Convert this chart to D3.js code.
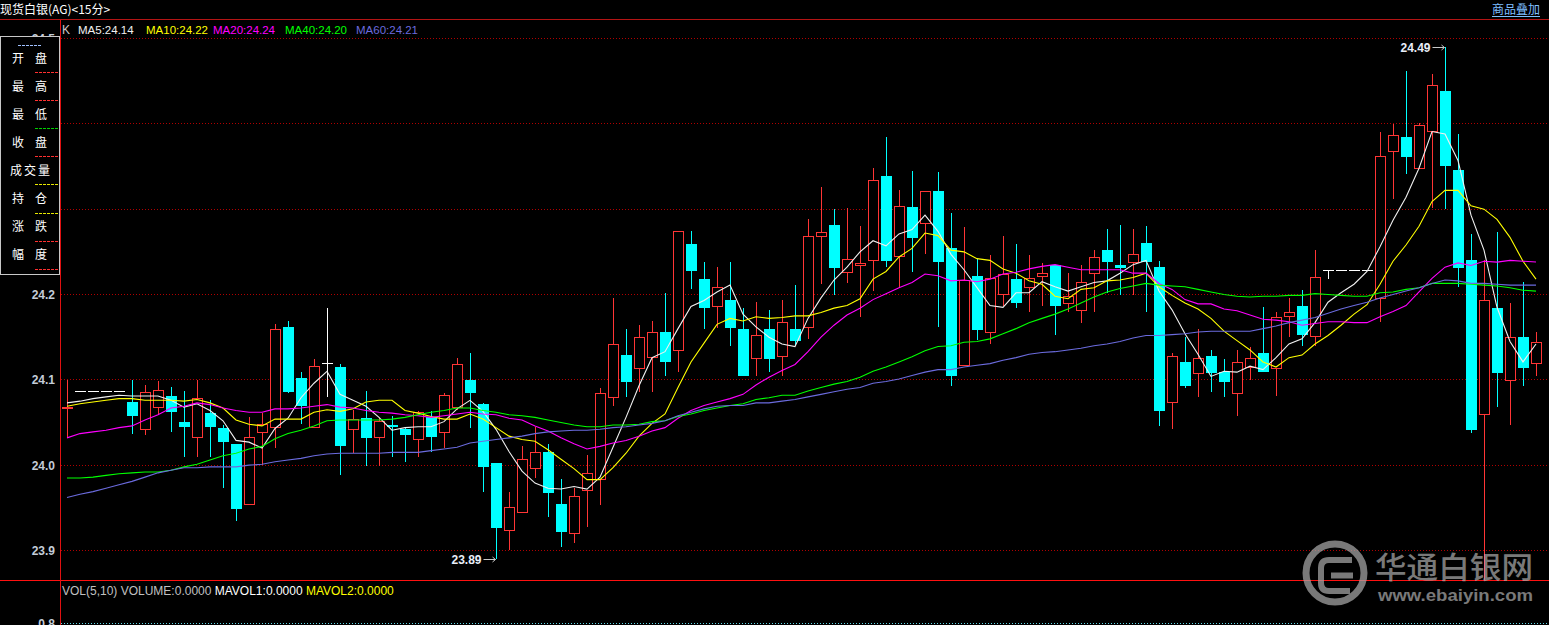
<!DOCTYPE html>
<html><head><meta charset="utf-8">
<script src="https://cdn.jsdelivr.net/npm/d3@7"></script>
<style>html,body{margin:0;padding:0;background:#000;overflow:hidden}</style>
</head><body>
<svg id="c" width="1549" height="625" style="display:block;background:#000"></svg>
<script>
// ---------- data (15-minute candles) ----------
const openP = [24.067,24.087,24.087,24.087,24.087,24.074,24.042,24.068,24.081,24.051,
24.033,24.061,24.044,24.025,23.955,24.039,24.045,24.162,24.102,24.045,
24.120,24.115,24.042,24.055,24.033,24.047,24.042,24.031,24.056,24.039,
24.068,24.100,24.072,24.002,23.924,23.945,23.997,24.015,23.954,23.921,
23.971,23.984,24.080,24.129,24.114,24.127,24.156,24.135,24.259,24.218,
24.186,24.193,24.159,24.125,24.159,24.128,24.159,24.162,24.268,24.282,
24.226,24.234,24.240,24.339,24.245,24.302,24.284,24.321,24.255,24.117,
24.222,24.156,24.201,24.218,24.209,24.222,24.234,24.190,24.182,24.225,
24.252,24.235,24.238,24.260,24.232,24.074,24.121,24.108,24.128,24.109,
24.085,24.115,24.131,24.114,24.175,24.186,24.151,24.229,24.229,24.229,
24.229,24.196,24.368,24.384,24.348,24.392,24.439,24.346,24.240,24.060,
24.184,24.100,24.150,24.120];
const highP = [24.100,24.087,24.087,24.087,24.087,24.100,24.094,24.099,24.092,24.087,
24.100,24.076,24.047,24.025,24.056,24.061,24.166,24.169,24.109,24.124,
24.184,24.119,24.065,24.087,24.055,24.058,24.045,24.064,24.064,24.085,
24.126,24.132,24.073,24.002,23.969,24.022,24.045,24.025,23.984,23.973,
24.012,24.090,24.196,24.159,24.164,24.169,24.202,24.275,24.274,24.238,
24.232,24.238,24.184,24.191,24.182,24.193,24.211,24.289,24.326,24.300,
24.301,24.280,24.348,24.384,24.322,24.345,24.321,24.344,24.295,24.279,
24.242,24.246,24.268,24.259,24.246,24.237,24.234,24.225,24.234,24.252,
24.277,24.282,24.277,24.280,24.239,24.132,24.150,24.160,24.135,24.124,
24.135,24.138,24.185,24.179,24.196,24.205,24.252,24.229,24.229,24.229,
24.229,24.391,24.400,24.462,24.401,24.458,24.490,24.388,24.271,24.241,
24.273,24.190,24.215,24.156];
const lowP = [24.032,24.087,24.087,24.087,24.087,24.036,24.035,24.059,24.039,24.009,
24.009,24.009,23.973,23.934,23.955,24.000,24.020,24.085,24.048,24.045,
24.080,23.989,24.014,23.999,23.999,24.009,24.004,24.009,24.015,24.020,
24.065,24.044,23.968,23.890,23.901,23.945,23.985,23.939,23.904,23.909,
23.928,23.953,24.069,24.080,24.086,24.086,24.105,24.109,24.206,24.159,
24.161,24.140,24.104,24.104,24.109,24.104,24.141,24.148,24.212,24.200,
24.213,24.174,24.204,24.232,24.208,24.226,24.248,24.162,24.093,24.117,
24.147,24.142,24.186,24.184,24.180,24.187,24.152,24.180,24.167,24.180,
24.202,24.200,24.200,24.180,24.046,24.042,24.090,24.080,24.086,24.080,
24.058,24.100,24.109,24.081,24.150,24.140,24.140,24.218,24.229,24.229,
24.229,24.168,24.312,24.341,24.347,24.301,24.300,24.209,24.038,23.850,
24.068,24.047,24.093,24.104];
const closeP = [24.068,24.087,24.087,24.087,24.087,24.058,24.086,24.088,24.062,24.045,
24.079,24.045,24.027,23.949,24.033,24.048,24.160,24.086,24.069,24.116,
24.120,24.022,24.054,24.032,24.052,24.045,24.035,24.062,24.033,24.082,
24.119,24.085,23.998,23.926,23.951,24.007,24.015,23.967,23.922,23.964,
23.991,24.084,24.142,24.098,24.150,24.156,24.121,24.275,24.228,24.184,
24.209,24.161,24.104,24.152,24.124,24.168,24.146,24.268,24.273,24.231,
24.242,24.237,24.334,24.239,24.304,24.266,24.321,24.238,24.105,24.217,
24.158,24.219,24.224,24.190,24.219,24.225,24.187,24.198,24.215,24.244,
24.238,24.231,24.248,24.238,24.064,24.128,24.093,24.125,24.108,24.098,
24.121,24.126,24.109,24.174,24.180,24.152,24.220,24.229,24.229,24.229,
24.229,24.362,24.387,24.361,24.399,24.445,24.350,24.231,24.041,24.194,
24.108,24.150,24.114,24.144];

const ma5 = [24.073,24.075,24.078,24.080,24.082,24.081,24.081,24.081,24.076,24.068,
24.072,24.064,24.052,24.029,24.027,24.020,24.043,24.055,24.079,24.096,
24.110,24.083,24.076,24.069,24.056,24.041,24.044,24.045,24.045,24.051,
24.066,24.076,24.063,24.042,24.016,23.993,23.979,23.973,23.972,23.975,
23.972,23.986,24.021,24.056,24.093,24.126,24.133,24.160,24.186,24.193,
24.203,24.211,24.177,24.162,24.150,24.142,24.139,24.172,24.196,24.217,
24.232,24.250,24.263,24.257,24.271,24.276,24.293,24.274,24.247,24.229,
24.208,24.187,24.185,24.202,24.202,24.215,24.209,24.204,24.209,24.214,
24.216,24.225,24.235,24.240,24.204,24.182,24.154,24.130,24.104,24.110,
24.109,24.116,24.112,24.126,24.142,24.148,24.167,24.191,24.202,24.212,
24.227,24.256,24.287,24.314,24.348,24.391,24.388,24.357,24.293,24.252,
24.185,24.145,24.121,24.142];
const ma10 = [24.069,24.072,24.074,24.076,24.078,24.078,24.076,24.076,24.076,
24.075,24.077,24.073,24.067,24.053,24.048,24.046,24.054,24.054,24.054,
24.062,24.065,24.063,24.066,24.074,24.076,24.076,24.064,24.061,24.057,
24.054,24.054,24.060,24.054,24.044,24.034,24.030,24.028,24.018,24.007,
23.996,23.983,23.983,23.997,24.014,24.034,24.049,24.060,24.091,24.121,
24.143,24.165,24.172,24.169,24.174,24.172,24.173,24.175,24.175,24.179,
24.184,24.187,24.195,24.218,24.227,24.244,24.254,24.272,24.269,24.252,
24.250,24.242,24.240,24.230,24.225,24.216,24.212,24.198,24.195,24.206,
24.208,24.216,24.217,24.220,24.225,24.209,24.199,24.190,24.183,24.172,
24.157,24.146,24.135,24.121,24.115,24.126,24.129,24.142,24.152,24.164,
24.177,24.188,24.212,24.239,24.258,24.280,24.309,24.322,24.322,24.304,
24.300,24.288,24.267,24.239,24.218];
const ma20 = [24.032,24.037,24.039,24.041,24.044,24.046,24.053,24.059,24.067,24.069,
24.073,24.071,24.067,24.064,24.062,24.062,24.066,24.066,24.067,
24.069,24.071,24.068,24.067,24.064,24.062,24.061,24.059,24.058,24.056,
24.058,24.060,24.062,24.060,24.059,24.055,24.053,24.046,24.040,24.032,
24.025,24.019,24.022,24.026,24.029,24.034,24.040,24.044,24.055,24.064,
24.070,24.074,24.078,24.083,24.094,24.103,24.111,24.118,24.133,24.150,
24.164,24.176,24.184,24.194,24.201,24.208,24.214,24.224,24.222,24.216,
24.217,24.215,24.218,24.224,24.226,24.230,24.233,24.235,24.232,24.229,
24.229,24.229,24.229,24.225,24.225,24.213,24.206,24.194,24.189,24.189,
24.183,24.181,24.176,24.171,24.170,24.168,24.164,24.166,24.168,24.168,
24.167,24.167,24.174,24.180,24.187,24.203,24.219,24.232,24.237,24.234,
24.239,24.238,24.240,24.239,24.238];
const ma40 = [23.985,23.985,23.986,23.988,23.990,23.991,23.992,23.992,23.994,23.998,
24.001,24.006,24.011,24.014,24.019,24.022,24.031,24.037,24.041,24.046,
24.052,24.053,24.053,24.053,24.053,24.054,24.056,24.059,24.062,24.064,
24.067,24.067,24.064,24.062,24.059,24.058,24.056,24.053,24.050,24.047,
24.045,24.045,24.047,24.047,24.048,24.051,24.052,24.057,24.060,24.064,
24.067,24.070,24.072,24.077,24.079,24.082,24.082,24.087,24.091,24.095,
24.098,24.103,24.110,24.115,24.121,24.127,24.134,24.139,24.140,24.144,
24.145,24.148,24.154,24.160,24.167,24.172,24.177,24.183,24.190,24.197,
24.203,24.207,24.210,24.213,24.211,24.210,24.209,24.206,24.203,24.200,
24.198,24.197,24.198,24.198,24.199,24.199,24.201,24.200,24.199,24.198,
24.198,24.202,24.203,24.206,24.208,24.213,24.213,24.213,24.212,24.211,
24.210,24.208,24.205,24.204];
const ma60 = [23.962,23.966,23.969,23.973,23.977,23.981,23.986,23.991,23.994,23.997,
23.997,23.998,23.998,23.998,24.000,24.001,24.004,24.006,24.008,24.011,
24.013,24.014,24.014,24.014,24.014,24.015,24.015,24.015,24.017,24.019,
24.021,24.026,24.028,24.030,24.032,24.034,24.037,24.039,24.040,24.041,
24.041,24.042,24.044,24.045,24.047,24.049,24.052,24.058,24.062,24.066,
24.069,24.070,24.070,24.073,24.073,24.075,24.077,24.080,24.083,24.086,
24.089,24.091,24.096,24.098,24.101,24.105,24.109,24.112,24.112,24.115,
24.117,24.119,24.123,24.126,24.130,24.132,24.133,24.135,24.137,24.140,
24.142,24.145,24.149,24.152,24.152,24.153,24.154,24.156,24.157,24.157,
24.157,24.157,24.160,24.163,24.167,24.170,24.173,24.178,24.183,24.187,
24.191,24.196,24.200,24.204,24.208,24.213,24.217,24.216,24.213,24.213,
24.212,24.211,24.211,24.211];

const priceTicks = [23.9, 24.0, 24.1, 24.2, 24.3, 24.4, 24.5];
const priceLabels = [23.9, 24.0, 24.1, 24.2, 24.5];   // 24.3 / 24.4 sit under the info panel
const volTicks = [0.8];
const maNames = ["MA5", "MA10", "MA20", "MA40", "MA60"];
const maLast = ["24.14", "24.22", "24.24", "24.20", "24.21"];
const extremeIdx = [106, 33];           // candles carrying the max / min marks
const extremeVal = [24.49, 23.89];
const panelLabels = [["开","盘"],["最","高"],["最","低"],["收","盘"],["成交量"],["持","仓"],["涨","跌"],["幅","度"]];
const panelDash = ["#ff3030","#ff3030","#00d000","#ff3030","#e8e800","#e8e800","#ff3030","#ff3030"];

// ---------- drawing ----------
const W = 1549, H = 625;
const svg = d3.select("#c");
const N = closeP.length;
const candles = d3.range(N).map(i => ({i, o: openP[i], h: highP[i], l: lowP[i], c: closeP[i]}));

const x = d3.scaleLinear().domain([0, N - 1]).range([67, 1536]);
const y = d3.scaleLinear().domain([23.9, 24.5]).range([550.5, 38.5]);
const yv = d3.scaleLinear().domain([0, 0.8]).range([700, 623.5]);

const px = v => Math.round(v);
const latin = '"Liberation Sans", Arial, sans-serif';
const cjk = '"Noto Sans CJK SC", "Noto Sans", sans-serif';

svg.append("defs").append("clipPath").attr("id", "pane")
  .append("rect").attr("x", 61).attr("y", 37).attr("width", W - 61).attr("height", 580 - 37);

// gridlines
svg.append("g").selectAll("line").data(priceTicks).join("line")
  .attr("x1", 61).attr("x2", W)
  .attr("y1", d => Math.floor(y(d)) + 0.5).attr("y2", d => Math.floor(y(d)) + 0.5)
  .attr("stroke", "#b00000").attr("stroke-dasharray", "1,2");
svg.append("g").selectAll("line").data(volTicks).join("line")
  .attr("x1", 61).attr("x2", W)
  .attr("y1", d => Math.floor(yv(d)) + 0.5).attr("y2", d => Math.floor(yv(d)) + 0.5)
  .attr("stroke", "#5fd8e8").attr("stroke-dasharray", "1,2");

// axis labels
const ax = svg.append("g").attr("transform", "translate(55,0)")
  .call(d3.axisLeft(y).tickValues(priceLabels).tickFormat(d3.format(".1f")).tickSize(0).tickPadding(0));
ax.select(".domain").remove();
ax.selectAll("text").attr("fill", "#c3ccd8").style("font", "bold 12px " + latin);
const axv = svg.append("g").attr("transform", "translate(55,0)")
  .call(d3.axisLeft(yv).tickValues(volTicks).tickFormat(d3.format(".1f")).tickSize(0).tickPadding(0));
axv.select(".domain").remove();
axv.selectAll("text").attr("fill", "#c3ccd8").style("font", "bold 12px " + latin);

// frame lines
svg.append("line").attr("x1", 0).attr("x2", W).attr("y1", 19.5).attr("y2", 19.5).attr("stroke", "#b41414");
svg.append("line").attr("x1", 0).attr("x2", W).attr("y1", 580.5).attr("y2", 580.5).attr("stroke", "#ff1010");
svg.append("line").attr("x1", 60.5).attr("x2", 60.5).attr("y1", 20).attr("y2", H).attr("stroke", "#e01010");

// candles
const UP = "#ff3535", DN = "#00ffff", EQ = "#ffffff";
const col = d => d.c > d.o ? UP : (d.c < d.o ? DN : EQ);
const gc = svg.append("g").attr("clip-path", "url(#pane)");
const g = gc.selectAll("g.k").data(candles).join("g").attr("class", "k");
g.each(function(d) {
  const s = d3.select(this);
  const cx = px(x(d.i)) + 0.5;
  const yh = px(y(d.h)), yl = px(y(d.l)), yo = px(y(d.o)), yc = px(y(d.c));
  const color = col(d);
  if (d.c > d.o) {
    if (yh < yc) s.append("line").attr("x1", cx).attr("x2", cx).attr("y1", yh).attr("y2", yc).attr("stroke", color);
    if (yl > yo) s.append("line").attr("x1", cx).attr("x2", cx).attr("y1", yo).attr("y2", yl).attr("stroke", color);
    s.append("rect").attr("x", cx - 5).attr("y", yc + 0.5).attr("width", 10).attr("height", Math.max(1, yo - yc))
      .attr("fill", "#000").attr("stroke", color);
  } else if (d.c < d.o) {
    s.append("line").attr("x1", cx).attr("x2", cx).attr("y1", yh).attr("y2", yl).attr("stroke", color);
    s.append("rect").attr("x", cx - 5.5).attr("y", yo).attr("width", 11).attr("height", Math.max(1, yc - yo))
      .attr("fill", color);
  } else {
    if (yl > yh) s.append("line").attr("x1", cx).attr("x2", cx).attr("y1", yh).attr("y2", yl).attr("stroke", color);
    s.append("line").attr("x1", cx - 5.5).attr("x2", cx + 5.5).attr("y1", yo + 0.5).attr("y2", yo + 0.5).attr("stroke", color);
  }
});

// moving averages
const maSeries = [ma5, ma10, ma20, ma40, ma60];
const maColors = ["#f0f0f0", "#ffff00", "#ff00ff", "#00ff00", "#6b6bde"];
const line = d3.line().x((d, i) => x(i)).y(d => y(d));
gc.selectAll("path.ma").data(maSeries).join("path").attr("class", "ma")
  .attr("d", line).attr("fill", "none").attr("stroke", (d, i) => maColors[i]).attr("stroke-width", 1.1);

// extreme marks
extremeIdx.forEach((idx, k) => {
  const xx = px(x(idx)) + 0.5, yy = px(y(extremeVal[k])) + 0.5;
  svg.append("text").attr("x", xx - 15).attr("y", yy).attr("dy", "0.35em").attr("text-anchor", "end")
    .attr("fill", "#e8eef8").style("font", "bold 12px " + latin).text(d3.format(".2f")(extremeVal[k]));
  svg.append("line").attr("x1", xx - 13).attr("x2", xx - 1).attr("y1", yy).attr("y2", yy).attr("stroke", "#c8c8c8");
  svg.append("path").attr("d", `M${xx - 4},${yy - 2.5}L${xx - 1},${yy}L${xx - 4},${yy + 2.5}`).attr("fill", "none").attr("stroke", "#c8c8c8");
});

// title & header
svg.append("text").attr("x", 0).attr("y", 14).attr("fill", "#ffffff").style("font", "12px " + cjk).text("现货白银(AG)<15分>");
svg.append("text").attr("x", 1492).attr("y", 14).attr("fill", "#7fbfff").style("font", "12px " + cjk).text("商品叠加");
svg.append("line").attr("x1", 1492).attr("x2", 1540).attr("y1", 16.5).attr("y2", 16.5).attr("stroke", "#7fbfff");

const legendX = [78, 146, 213, 285, 356];
svg.append("text").attr("x", 62).attr("y", 34).attr("fill", "#c8c8c8").style("font", "12px " + latin).text("K");
maNames.forEach((n, i) => svg.append("text").attr("x", legendX[i]).attr("y", 34).attr("fill", maColors[i])
  .style("font", "11.5px " + latin).text(n + ":" + maLast[i]));

const vt = svg.append("text").attr("x", 62).attr("y", 595).style("font", "12px " + latin);
vt.append("tspan").attr("fill", "#c0c0c0").text("VOL(5,10) VOLUME:0.0000 ");
vt.append("tspan").attr("fill", "#ffffff").text("MAVOL1:0.0000 ");
vt.append("tspan").attr("fill", "#ffff00").text("MAVOL2:0.0000");

// left info panel
const pg = svg.append("g");
pg.append("rect").attr("x", 0.5).attr("y", 36.5).attr("width", 59).attr("height", 238).attr("fill", "#000").attr("stroke", "#c8c8c8");
pg.append("line").attr("x1", 18).attr("x2", 42).attr("y1", 45.5).attr("y2", 45.5).attr("stroke", "#9fc0ff").attr("stroke-dasharray", "3,1");
panelLabels.forEach((lab, k) => {
  const cy = 58 + k * 28.1;
  if (lab.length === 2) {
    pg.append("text").attr("x", 12).attr("y", cy + 4.6).attr("fill", "#fff").style("font", "12px " + cjk).text(lab[0]);
    pg.append("text").attr("x", 35).attr("y", cy + 4.6).attr("fill", "#fff").style("font", "12px " + cjk).text(lab[1]);
  } else {
    pg.append("text").attr("x", 10).attr("y", cy + 4.6).attr("fill", "#fff").style("font", "12px " + cjk)
      .attr("textLength", 40).attr("lengthAdjust", "spacing").text(lab[0]);
  }
  pg.append("line").attr("x1", 35).attr("x2", 59).attr("y1", Math.round(cy + 14) + 0.5).attr("y2", Math.round(cy + 14) + 0.5)
    .attr("stroke", panelDash[k]).attr("stroke-dasharray", "3,1");
});

// watermark
const wm = svg.append("g").attr("opacity", 0.72);
wm.append("circle").attr("cx", 1335).attr("cy", 573).attr("r", 29).attr("fill", "none").attr("stroke", "#a8a8a8").attr("stroke-width", 7);
wm.append("path").attr("d", "M1352,560 H1329 Q1321,560 1321,568 V583 Q1321,591 1329,591 H1350 M1331,575.5 H1353")
  .attr("fill", "none").attr("stroke", "#a8a8a8").attr("stroke-width", 6);
wm.append("text").attr("x", 1375).attr("y", 578).attr("fill", "#a8a8a8").style("font", "500 30px " + cjk)
  .attr("textLength", 158).attr("lengthAdjust", "spacingAndGlyphs").text("华通白银网");
wm.append("text").attr("x", 1378).attr("y", 601).attr("fill", "#a8a8a8").style("font", "bold 17px " + latin)
  .attr("textLength", 155).attr("lengthAdjust", "spacingAndGlyphs").text("www.ebaiyin.com");
</script>
</body></html>
